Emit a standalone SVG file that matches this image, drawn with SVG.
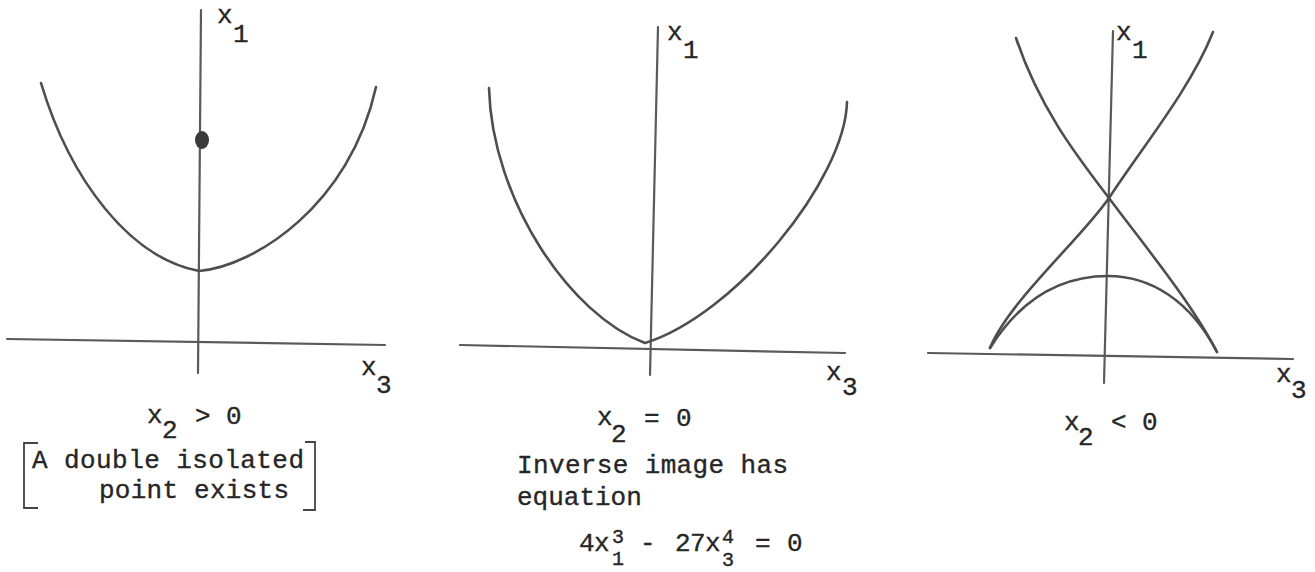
<svg xmlns="http://www.w3.org/2000/svg" width="1315" height="572" viewBox="0 0 1315 572">
<style>
.bg{fill:#ffffff}
.axis{fill:none;stroke:#5a5a5a;stroke-width:2.2;stroke-linecap:round}
.curve{fill:none;stroke:#4e4e4e;stroke-width:2.6;stroke-linecap:round;stroke-linejoin:round}
.br{fill:none;stroke:#444;stroke-width:1.8}
text{font-family:"Liberation Mono","DejaVu Sans Mono",monospace;font-size:26px;fill:#262626;stroke:#262626;stroke-width:0.35}
.sm{font-size:20px}
</style>
<rect class="bg" x="0" y="0" width="1315" height="572"/>

<g id="panel1">
  <g id="p1-axes">
    <path class="axis" d="M201,10 L198,373"/>
    <path class="axis" d="M7,339 L385,345"/>
  </g>
  <path id="p1-curve" class="curve" d="M41,83 C70,180 130,258 199,271 C255,266 350,205 376,87"/>
  <ellipse id="p1-point" cx="202" cy="140" rx="7" ry="9" fill="#3a3a3a"/>
  <text id="p1-x1"><tspan x="217" y="23">x</tspan><tspan x="233" y="42">1</tspan></text>
  <text id="p1-x3"><tspan x="361" y="375">x</tspan><tspan x="376" y="393">3</tspan></text>
  <text id="p1-cond"><tspan x="147" y="423">x</tspan><tspan x="162" y="438">2</tspan><tspan x="195" y="424">&gt;</tspan><tspan x="226" y="424">0</tspan></text>
  <g id="p1-note">
    <path class="br" d="M38,443 H24 V508 H38"/>
    <path class="br" d="M305,442 H315 V510 H303"/>
    <text x="32" y="468" textLength="272" lengthAdjust="spacing">A double isolated</text>
    <text x="99" y="498" textLength="190" lengthAdjust="spacing">point exists</text>
  </g>
</g>

<g id="panel2">
  <g id="p2-axes">
    <path class="axis" d="M658,27 L650,375"/>
    <path class="axis" d="M460,345 L845,353"/>
  </g>
  <path id="p2-curve" class="curve" d="M489,88 C492,200 570,315 645,343 C735,315 845,180 847,102"/>
  <text id="p2-x1"><tspan x="667" y="40">x</tspan><tspan x="683" y="58">1</tspan></text>
  <text id="p2-x3"><tspan x="826" y="380">x</tspan><tspan x="842" y="395">3</tspan></text>
  <text id="p2-cond"><tspan x="597" y="425">x</tspan><tspan x="611" y="442">2</tspan><tspan x="644" y="426">=</tspan><tspan x="676" y="426">0</tspan></text>
  <text id="p2-note1" x="517" y="473" textLength="271" lengthAdjust="spacing">Inverse image has</text>
  <text id="p2-note2" x="517" y="505">equation</text>
  <text id="p2-eq"><tspan x="579" y="551">4</tspan><tspan x="594" y="551">x</tspan><tspan x="640" y="551">-</tspan><tspan x="675" y="551">2</tspan><tspan x="690" y="551">7</tspan><tspan x="705" y="551">x</tspan><tspan x="755" y="551">=</tspan><tspan x="787" y="551">0</tspan></text>
  <text id="p2-eq-sup" class="sm"><tspan x="612" y="543">3</tspan><tspan x="722" y="543">4</tspan></text>
  <text id="p2-eq-sub" class="sm"><tspan x="612" y="565">1</tspan><tspan x="722" y="566">3</tspan></text>
</g>

<g id="panel3">
  <g id="p3-axes">
    <path class="axis" d="M1113,31 L1104,383"/>
    <path class="axis" d="M928,353 L1293,359"/>
  </g>
  <path id="p3-branch-a" class="curve" d="M1016,38 C1040,110 1080,160 1109,198 C1140,240 1190,300 1217,352"/>
  <path id="p3-branch-b" class="curve" d="M1213,32 C1190,90 1140,150 1109,198 C1080,240 1010,300 990,348"/>
  <path id="p3-arch" class="curve" d="M990,348 C1020,300 1060,276 1108,276 C1150,276 1190,300 1217,352"/>
  <text id="p3-x1"><tspan x="1116" y="40">x</tspan><tspan x="1132" y="58">1</tspan></text>
  <text id="p3-x3"><tspan x="1276" y="382">x</tspan><tspan x="1291" y="398">3</tspan></text>
  <text id="p3-cond"><tspan x="1064" y="430">x</tspan><tspan x="1078" y="445">2</tspan><tspan x="1111" y="430">&lt;</tspan><tspan x="1142" y="430">0</tspan></text>
</g>
</svg>
